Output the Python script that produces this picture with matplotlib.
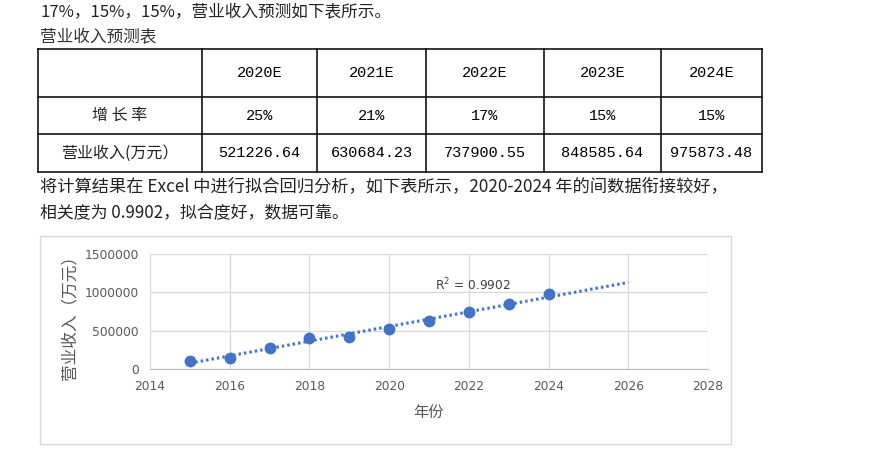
import matplotlib.pyplot as plt
import numpy as np
from matplotlib.patches import Rectangle

# ── Data ────────────────────────────────────────────────────────────────
TABLE_YEARS = ["2020E", "2021E", "2022E", "2023E", "2024E"]
GROWTH = ["25%", "21%", "17%", "15%", "15%"]
REVENUE_FCST = [521226.64, 630684.23, 737900.55, 848585.64, 975873.48]

CHART_YEARS = [2015, 2016, 2017, 2018, 2019, 2020, 2021, 2022, 2023, 2024]
CHART_REVENUE = [110000, 150000, 268000, 405000, 420000,
                 521226.64, 630684.23, 737900.55, 848585.64, 975873.48]
TREND_END = 2026
R2_LABEL = "R$^2$ = 0.9902"

CJK = ["Noto Sans CJK SC", "DejaVu Sans"]
MONO = ["Liberation Mono", "Noto Sans CJK SC"]
BLUE = "#4472C4"

fig = plt.figure(figsize=(8.81, 4.62), dpi=100)
fig.patch.set_facecolor("white")

# page layer in pixel units
bg = fig.add_axes([0, 0, 1, 1])
bg.set_xlim(0, 881)
bg.set_ylim(462, 0)
bg.axis("off")

# ── Paragraph text ──────────────────────────────────────────────────────
bg.text(40, 12, "17%，15%，15%，营业收入预测如下表所示。", family=CJK,
        fontsize=12, color="#222222", va="center")
bg.text(40, 37, "营业收入预测表", family=CJK, fontsize=12,
        color="#333333", va="center")
bg.text(40, 186, "将计算结果在 Excel 中进行拟合回归分析，如下表所示，2020-2024 年的间数据衔接较好，",
        family=CJK, fontsize=12.4, color="#222222", va="center")
bg.text(40, 213, "相关度为 0.9902，拟合度好，数据可靠。", family=CJK,
        fontsize=12.2, color="#222222", va="center")

# ── Table ───────────────────────────────────────────────────────────────
col_x = [38, 202, 317, 426, 544, 661, 762]
row_y = [49, 97, 134, 172]
for x in col_x:
    bg.plot([x, x], [row_y[0], row_y[-1]], color="black", lw=1.1)
for y in row_y:
    bg.plot([col_x[0], col_x[-1]], [y, y], color="black", lw=1.1)

def cell_center(c, r):
    return (col_x[c] + col_x[c + 1]) / 2, (row_y[r] + row_y[r + 1]) / 2

for i, yr in enumerate(TABLE_YEARS):
    x, y = cell_center(i + 1, 0)
    bg.text(x, y, yr, family=MONO, fontsize=11, ha="center", va="center")
    x, y = cell_center(i + 1, 1)
    bg.text(x, y, GROWTH[i], family=MONO, fontsize=11, ha="center", va="center")
    x, y = cell_center(i + 1, 2)
    bg.text(x, y, f"{REVENUE_FCST[i]:.2f}", family=MONO, fontsize=11,
            ha="center", va="center")

x, y = cell_center(0, 1)
bg.text(x, y, "增 长 率", family=CJK, fontsize=11.5, ha="center", va="center",
        color="#222222")
x, y = cell_center(0, 2)
bg.text(x, y, "营业收入(万元）", family=CJK, fontsize=11.5, ha="center",
        va="center", color="#222222")

# ── Chart frame ─────────────────────────────────────────────────────────
bg.add_patch(Rectangle((40, 236), 691, 208, fill=False,
                       edgecolor="#d9d9d9", lw=1))

ax = fig.add_axes([150 / 881, 1 - 369 / 462, (708 - 150) / 881, (369 - 254) / 462])
ax.set_xlim(2014, 2028)
ax.set_ylim(0, 1500000)
ax.set_xticks(range(2014, 2029, 2))
ax.set_yticks([0, 500000, 1000000, 1500000])
ax.set_yticklabels(["0", "500000", "1000000", "1500000"])
ax.grid(True, color="#d9d9d9", lw=0.9)
ax.set_axisbelow(True)
for s in ["top", "right", "left"]:
    ax.spines[s].set_visible(False)
ax.spines["bottom"].set_color("#bfbfbf")
ax.tick_params(length=0, labelsize=8.8, labelcolor="#595959", pad=8)

# linear trendline over the data, extended forward
coef = np.polyfit(CHART_YEARS, CHART_REVENUE, 1)
tx = np.array([CHART_YEARS[0], TREND_END])
ax.plot(tx, np.polyval(coef, tx), color=BLUE, lw=2.2, linestyle=(0, (0.8, 1.0)),
        zorder=2)
ax.plot(CHART_YEARS, CHART_REVENUE, "o", color=BLUE, markersize=7.5, zorder=3)
ax.text(2022.1, 1096000, R2_LABEL, fontsize=8.8, color="#404040",
        ha="center", va="center")

fig.text(428 / 881, 1 - 412 / 462, "年份", family=CJK, fontsize=11,
         color="#595959", ha="center", va="center")
fig.text(70 / 881, 1 - 314 / 462, "营业收入（万元）", family=CJK, fontsize=12,
         color="#595959", ha="center", va="center", rotation=90)

fig.savefig("out.png", dpi=100)
